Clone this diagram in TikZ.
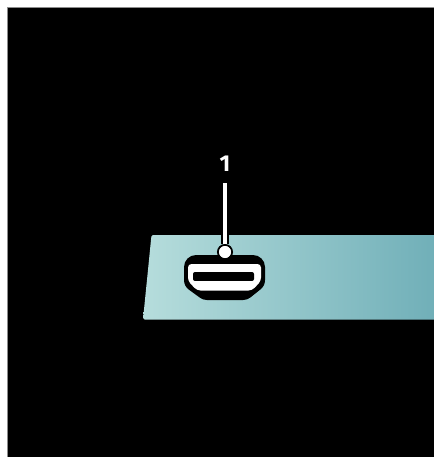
\documentclass[tikz,border=0pt]{standalone}
\usepackage{fontspec}
\setmainfont{Fira Sans}
\definecolor{panelleft}{HTML}{B6DDDC}
\definecolor{panelright}{HTML}{70AFB8}

\begin{document}
\begin{tikzpicture}[x=1pt, y=-1pt,
    backing/.style={fill=black, draw=black!45, line width=0.5pt},
    panel/.style={left color=panelleft, right color=panelright, rounded corners=1.5pt},
    halo/.style={draw=black, line width=8pt},
    leader/.style={draw=white, line width=3.5pt},
    portdot/.style={circle, fill=white, draw=black, line width=2pt, minimum size=14pt, inner sep=0pt},
    portnum/.style={text=white, font=\fontsize{23}{23}\bfseries\selectfont, minimum height=38pt, inner sep=0pt}]
    \useasboundingbox (0,0) rectangle (433,457);
    % Black page with the white margin left and above
    \fill[white] (0,0) rectangle (433,457);
    \path[backing] (7,7.5) rectangle (440,465);
    % Set side of the panel
    \shade[panel] (151.5,235) -- (436,235) -- (436,319.5) -- (143,319.5) -- cycle;
    % Connector outline
    \draw[black, line width=24pt, line cap=round, line join=round, fill=black]
        (196,267) -- (253,267) -- (253,280) -- (243,288) -- (207,288) -- (196,280) -- cycle;
    \fill[white, rounded corners=3.5pt]
        (188,264) -- (261,264) -- (261,281) -- (252,290.5) -- (197,290.5) -- (188,281) -- cycle;
    \fill[black, rounded corners=2pt] (193,272) rectangle (254,281);
    \fill[white] (193,283) -- (254,283) -- (254,281) -- (193,281) -- cycle;
    % Number and its line
    \coordinate (paneltop) at (225,235);
    \node[portdot] (dot) at (225,252) {};
    \node[portnum] (num) at (225,164) {1};
    \draw[halo] (paneltop) -- (dot);
    \draw[leader] (num.south) -- (dot);
    \node[portdot, draw=none, minimum size=12pt] at (dot) {};
\end{tikzpicture}
\end{document}
